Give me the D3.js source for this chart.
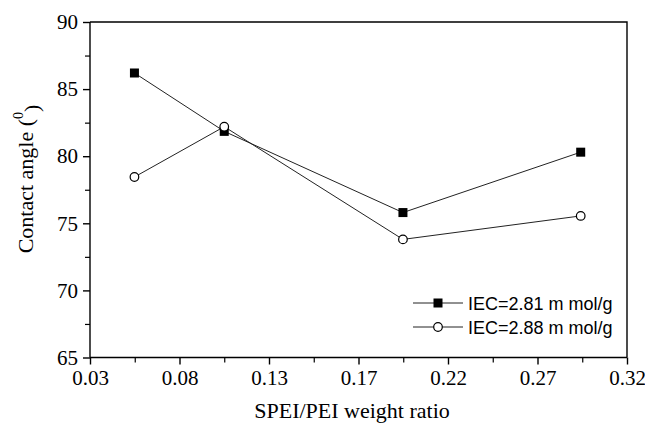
<!DOCTYPE html>
<html>
<head>
<meta charset="utf-8" />
<title>Contact angle</title>
<style>
  body { margin: 0; background: #fff; }
  svg { display: block; }
  .tick text { font-family: "Liberation Serif", "Times New Roman", serif; font-size: 21px; fill: #000; }
  .axis path, .axis line { stroke: #000; stroke-width: 1.4; }
  .minor path { display: none; }
  .minor line { stroke: #000; stroke-width: 1.2; }
  .title { font-family: "Liberation Serif", "Times New Roman", serif; font-size: 22px; fill: #000; }
  .legend text { font-family: "Liberation Sans", Arial, sans-serif; font-size: 18px; fill: #000; }
</style>
</head>
<body>
<svg id="chart" width="645" height="424"></svg>
<script src="https://d3js.org/d3.v7.min.js"></script>
<script>
// weight ratio (x)
const ratio = [0.054, 0.1025, 0.199, 0.295];
const iec281 = [86.2, 81.85, 75.8, 80.3];
const iec288 = [78.45, 82.2, 73.8, 75.55];
const seriesNames = ["IEC=2.81 m mol/g", "IEC=2.88 m mol/g"];
const xTickLabels = ["0.03", "0.08", "0.13", "0.17", "0.22", "0.27", "0.32"];
const yTicks = [65, 70, 75, 80, 85, 90];

const pLeft = 90, pRight = 627, pTop = 22, pBottom = 357.5;
const svg = d3.select("#chart");

const x = d3.scaleLinear().domain([0.03, 0.32]).range([pLeft, pRight]);
const y = d3.scaleLinear().domain([65, 90]).range([pBottom, pTop]);

// ticks spaced evenly over the domain, labelled as in the original
const step = (0.32 - 0.03) / (xTickLabels.length - 1);
const xTicks = xTickLabels.map((d, i) => 0.03 + i * step);
const xMinor = xTicks.slice(1).map(d => d - step / 2);
const yMinor = yTicks.slice(1).map(d => d - 2.5);

// frame (top and right lines)
svg.append("path")
  .attr("d", `M${pLeft},${pTop}H${pRight}V${pBottom}`)
  .attr("fill", "none").attr("stroke", "#000").attr("stroke-width", 1.4);

svg.append("g").attr("class", "axis minor")
  .attr("transform", `translate(0,${pBottom})`)
  .call(d3.axisBottom(x).tickValues(xMinor).tickSize(5).tickFormat(""));
svg.append("g").attr("class", "axis minor")
  .attr("transform", `translate(${pLeft},0)`)
  .call(d3.axisLeft(y).tickValues(yMinor).tickSize(5).tickFormat(""));

svg.append("g").attr("class", "axis")
  .attr("transform", `translate(0,${pBottom})`)
  .call(d3.axisBottom(x).tickValues(xTicks).tickSize(7).tickPadding(6)
    .tickFormat((d, i) => xTickLabels[i]))
  .call(g => g.select(".domain").attr("d", `M${pLeft},0H${pRight}`));

svg.append("g").attr("class", "axis")
  .attr("transform", `translate(${pLeft},0)`)
  .call(d3.axisLeft(y).tickValues(yTicks).tickSize(7).tickPadding(5).tickFormat(d3.format("d")))
  .call(g => g.select(".domain").attr("d", `M0,${pBottom}V${pTop}`));

// axis titles
svg.append("text").attr("class", "title")
  .attr("x", 352).attr("y", 418).attr("text-anchor", "middle")
  .text("SPEI/PEI weight ratio");

const yt = svg.append("text").attr("class", "title")
  .attr("transform", "translate(33,179) rotate(-90)")
  .attr("text-anchor", "middle");
yt.append("tspan").text("Contact angle (");
yt.append("tspan").attr("dy", "-0.7em").style("font-size", "14px").text("0");
yt.append("tspan").attr("dy", "0.7em").text(")");

// series
const series = [
  { name: seriesNames[0], values: iec281, filled: true },
  { name: seriesNames[1], values: iec288, filled: false }
];
const line = d3.line().x((d, i) => x(ratio[i])).y(d => y(d));

function marker(g, s) {
  if (s.filled) {
    g.append("rect").attr("x", -4.5).attr("y", -4.5).attr("width", 9).attr("height", 9)
      .attr("fill", "#000");
  } else {
    g.append("circle").attr("r", 4.3).attr("fill", "#fff")
      .attr("stroke", "#000").attr("stroke-width", 1.2);
  }
}

series.forEach(s => {
  svg.append("path").datum(s.values)
    .attr("d", line).attr("fill", "none")
    .attr("stroke", "#222").attr("stroke-width", 1);
});
series.forEach(s => {
  s.values.forEach((v, i) => {
    const g = svg.append("g").attr("transform", `translate(${x(ratio[i])},${y(v)})`);
    marker(g, s);
  });
});

// legend
const lg = svg.append("g").attr("class", "legend");
series.forEach((s, i) => {
  const row = lg.append("g").attr("transform", `translate(0,${303 + i * 24})`);
  row.append("line").attr("x1", 413).attr("x2", 463).attr("y1", 0).attr("y2", 0)
    .attr("stroke", "#222").attr("stroke-width", 1);
  marker(row.append("g").attr("transform", "translate(438,0)"), s);
  row.append("text").attr("x", 468).attr("y", 6.5).text(s.name);
});
</script>
</body>
</html>
